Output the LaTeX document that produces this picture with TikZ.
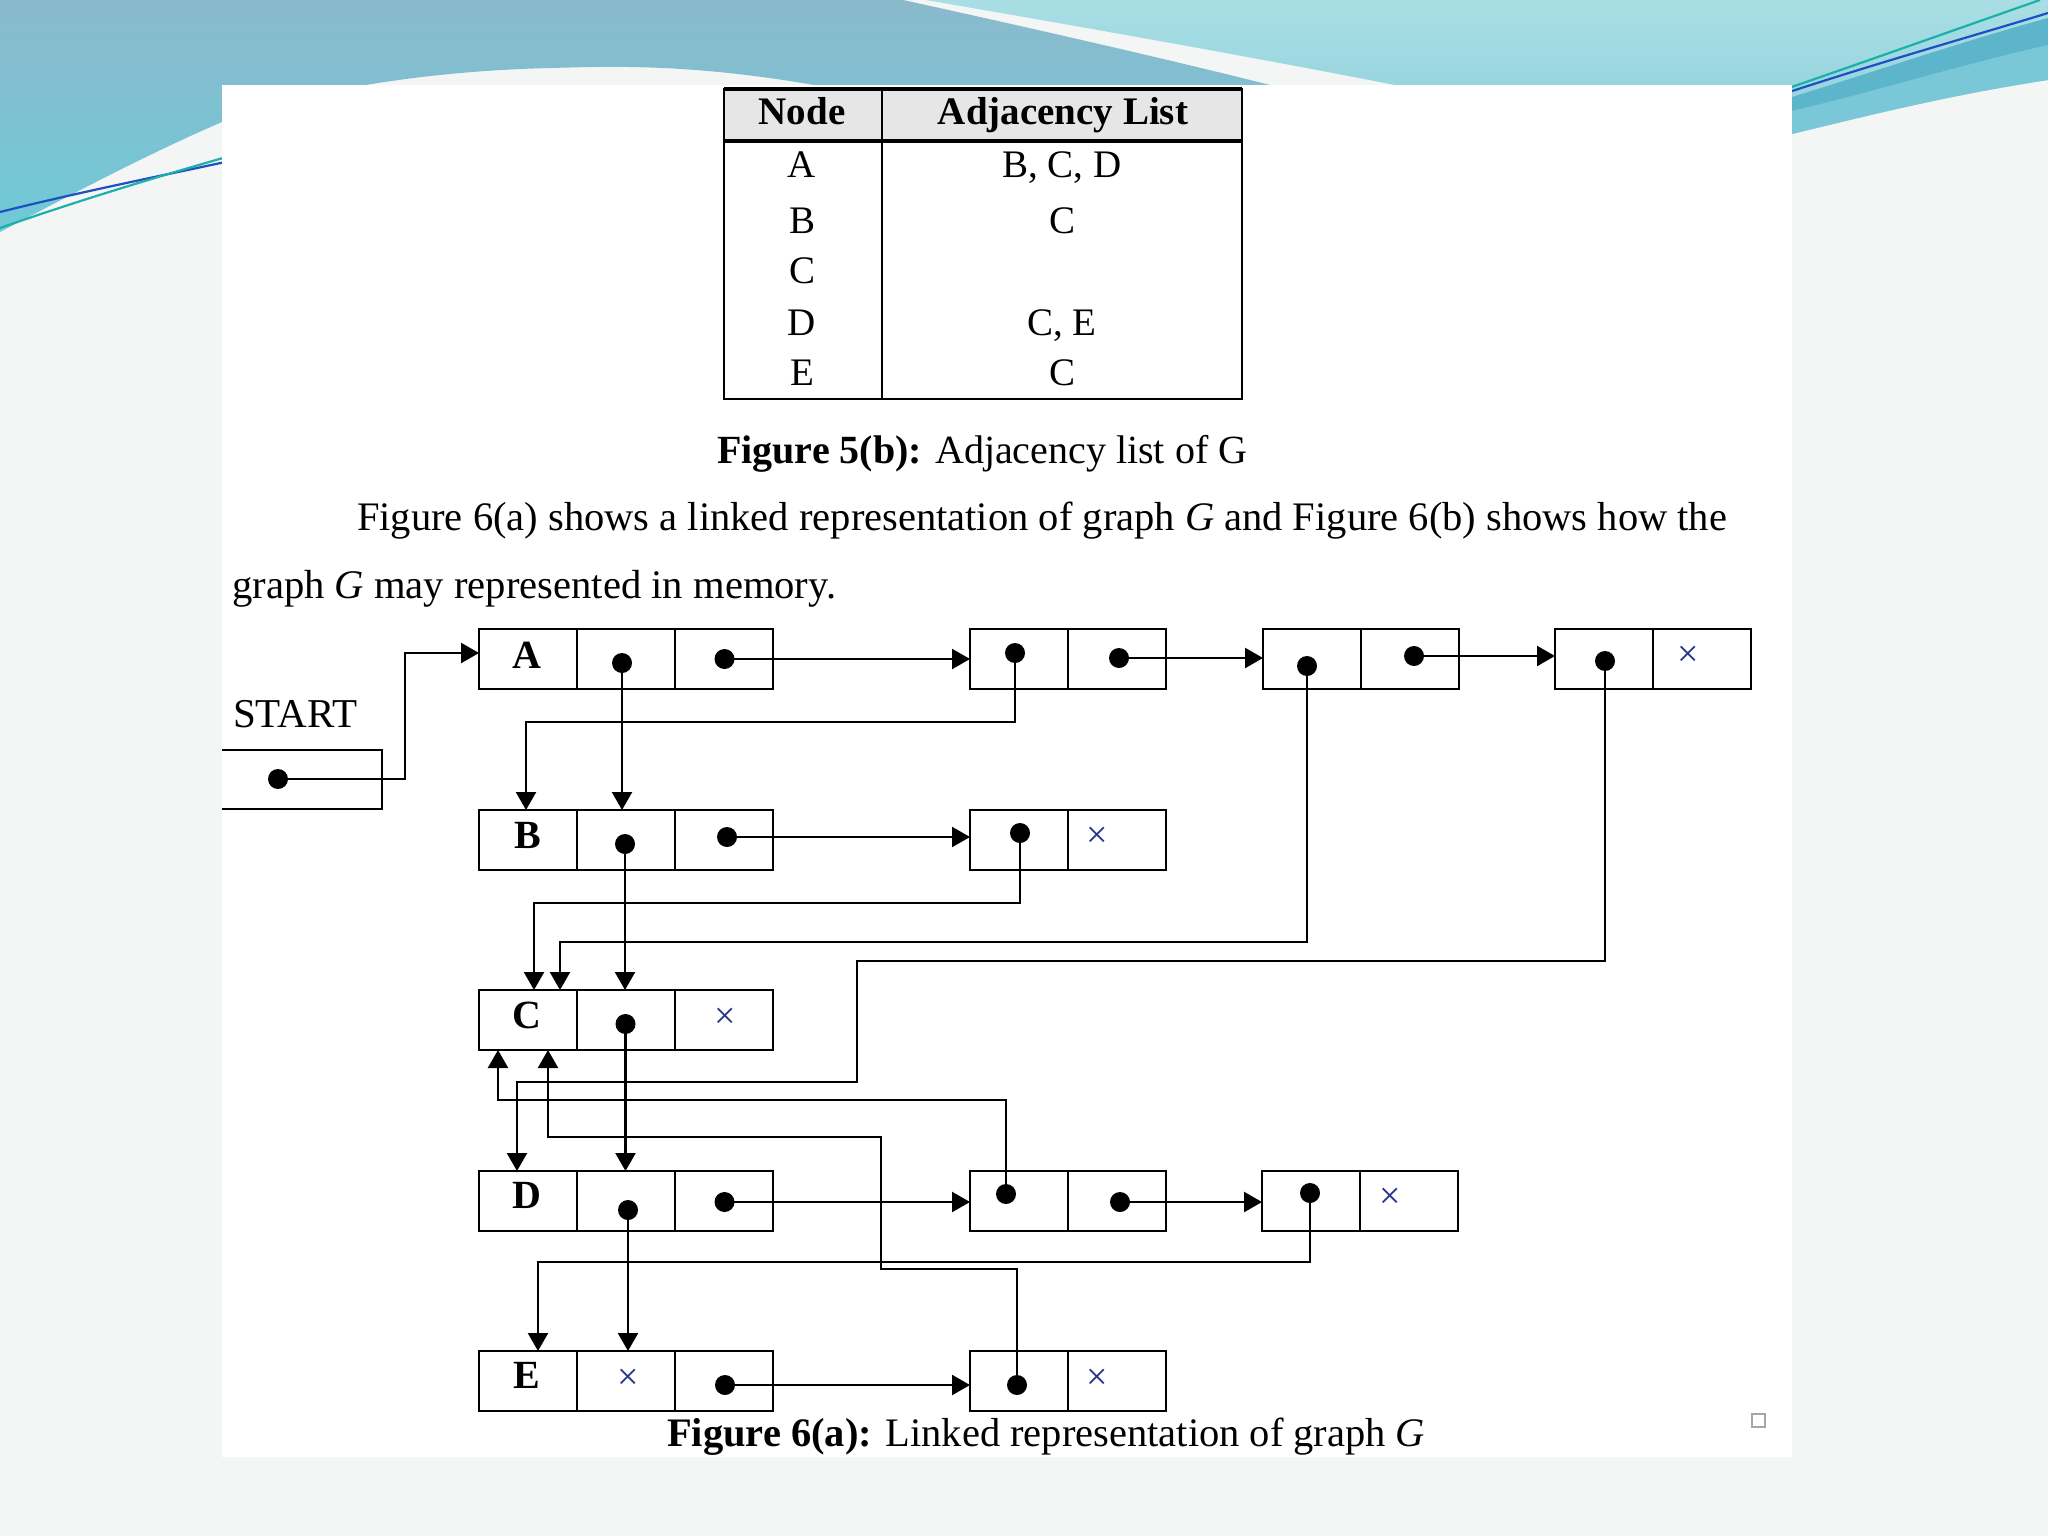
\documentclass[tikz,border=0pt]{standalone}
\usepackage{fontspec}
\setmainfont{Liberation Serif}
\usepackage{graphicx}
\usetikzlibrary{arrows.meta,calc}
\definecolor{pagebg}{HTML}{F4F5F5}
\definecolor{tealA}{HTML}{8AB9CC}
\definecolor{tealB}{HTML}{70CAD7}
\definecolor{tealC}{HTML}{A9DEE4}
\definecolor{tealD}{HTML}{90D1DD}
\definecolor{tealDark}{HTML}{5DB5CC}
\definecolor{tealMid}{HTML}{79C7D7}
\definecolor{lineTeal}{HTML}{19B1AA}
\definecolor{lineBlue}{HTML}{1E50C2}
\definecolor{xnavy}{HTML}{26358A}
\definecolor{hdrgray}{HTML}{E6E6E6}
\tikzset{
  cell/.style={draw, line width=2.4pt, minimum width=98pt, minimum height=60pt, inner sep=0pt, outer sep=0pt},
  ptr/.style={circle, fill=black, inner sep=0pt, minimum size=20pt},
  link/.style={line width=2.4pt},
  arr/.style={line width=2.4pt, -{Triangle[width=20pt,length=18pt]}},
  lbl/.style={font=\fontsize{40}{48}\selectfont\bfseries, inner sep=0pt, anchor=base},
  nil/.style={font=\fontsize{38}{44}\selectfont, text=xnavy, inner sep=0pt},
  tab/.style={font=\fontsize{39}{46}\selectfont, inner sep=0pt, anchor=base},
  tabh/.style={font=\fontsize{39}{46}\selectfont\bfseries, inner sep=0pt, anchor=base},
  txt/.style={inner sep=0pt, anchor=base west},
}
\begin{document}
\begin{tikzpicture}[x=1pt,y=-1pt]
\path[use as bounding box] (0,0) rectangle (2048,1536);
% ---------- background ----------
\fill[pagebg] (0,0) rectangle (2048,1536);
\shade[top color=tealA, bottom color=tealB] (0,0) -- (903,0)
  .. controls (1040,30) and (1180,62) .. (1290,90) -- (1290,100) -- (840,100) -- (831,88)
  .. controls (700,64) and (620,66) .. (551,68)
  .. controls (420,71) and (300,92) .. (222,122)
  .. controls (150,153) and (80,190) .. (0,232) -- cycle;
\shade[top color=tealC, bottom color=tealD] (926,0) -- (2048,0) -- (2048,80)
  .. controls (1950,95) and (1870,115) .. (1792,134) -- (1792,100) -- (1420,100) -- (1420,90)
  .. controls (1280,62) and (1100,30) .. (926,0) -- cycle;
\fill[tealMid] (1792,111) .. controls (1880,90) and (1960,65) .. (2048,45) -- (2048,80)
  .. controls (1950,95) and (1870,115) .. (1792,134) -- cycle;
\fill[tealDark] (1792,97) .. controls (1880,70) and (1960,42) .. (2048,18) -- (2048,45)
  .. controls (1960,65) and (1880,90) .. (1792,111) -- cycle;
\draw[lineTeal, line width=2.2pt] (1780,91) .. controls (1870,60) and (1960,28) .. (2040,0);
\draw[lineBlue, line width=2.2pt] (1780,95) .. controls (1880,62) and (1980,34) .. (2048,13);
\draw[lineBlue, line width=2.2pt] (0,212) .. controls (80,192) and (160,176) .. (230,161);
\draw[lineTeal, line width=2.2pt] (0,228) .. controls (80,200) and (160,176) .. (230,156);
% page
\fill[white] (222,85) rectangle (1792,1457);
\draw[gray!70, line width=2pt] (1752,1414) rectangle (1765,1427);
% ---------- table ----------
\fill[hdrgray] (724,89) rectangle (1242,141);
\draw[line width=2.4pt] (724,89) rectangle (1242,399);
\draw[line width=3.4pt] (724,89) -- (1242,89);
\draw[line width=3.4pt] (724,141) -- (1242,141);
\draw[line width=2.4pt] (882,89) -- (882,399);
\node[tabh] (hNode) at (802,125) {Node};
\node[tabh] (hAdj) at (1063,125) {Adjacency List};
\node[tab] (tA) at (802,177) {A};
\node[tab] (tB) at (802,233) {B};
\node[tab] (tC) at (802,283) {C};
\node[tab] (tD) at (802,335) {D};
\node[tab] (tE) at (802,385) {E};
\node[tab] (tlA) at (1062,177) {B, C, D};
\node[tab] (tlB) at (1062,233) {C};
\node[tab] (tlD) at (1062,335) {C, E};
\node[tab] (tlE) at (1062,385) {C};
\node[txt] (cap5) at (717,463) {\resizebox{530pt}{!}{\fontsize{40}{48}\selectfont\textbf{Figure 5(b):} Adjacency list of G}};
\node[txt] (para1) at (357,530) {\resizebox{1370pt}{!}{\fontsize{39}{46}\selectfont Figure 6(a) shows a linked representation of graph \textit{G} and Figure 6(b) shows how the}};
\node[txt] (para2) at (232,598) {\resizebox{604pt}{!}{\fontsize{39}{46}\selectfont graph \textit{G} may represented in memory.}};
% ---------- records ----------
\foreach \r/\y in {A/659,B/840,C/1020,D/1201,E/1381}{
  \node[cell] (\r0) at (528,\y) {};
  \node[cell] (\r1) at (626,\y) {};
  \node[cell] (\r2) at (724,\y) {};
}
\node[cell] (LA1a) at (1019,659) {}; \node[cell] (LA1b) at (1117,659) {};
\node[cell] (LA2a) at (1312,659) {}; \node[cell] (LA2b) at (1410,659) {};
\node[cell] (LA3a) at (1604,659) {}; \node[cell] (LA3b) at (1702,659) {};
\node[cell] (LBa) at (1019,840) {}; \node[cell] (LBb) at (1117,840) {};
\node[cell] (LD1a) at (1019,1201) {}; \node[cell] (LD1b) at (1117,1201) {};
\node[cell] (LD2a) at (1311,1201) {}; \node[cell] (LD2b) at (1409,1201) {};
\node[cell] (LEa) at (1019,1381) {}; \node[cell] (LEb) at (1117,1381) {};
% labels
\node[lbl] (lA) at (527,668) {A};
\node[lbl] (lB) at (528,848) {B};
\node[lbl] (lC) at (527,1028) {C};
\node[lbl] (lD) at (527,1208) {D};
\node[lbl] (lE) at (527,1388) {E};
% nil marks
\node[nil] (xA3) at (1688,656) {×};
\node[nil] (xB) at (1097,837) {×};
\node[nil] (xC) at (725,1018) {×};
\node[nil] (xD2) at (1390,1198) {×};
\node[nil] (xE) at (628,1379) {×};
\node[nil] (xLE) at (1097,1379) {×};
% START
\node[txt, font=\fontsize{41}{48}\selectfont] (start) at (233,727) {START};
\draw[link] (222,750) -- (382,750) -- (382,809) -- (222,809);
% pointer dots (coordinates)
\coordinate (pS) at (278,779);
\coordinate (pA1) at (622,663); \coordinate (pA2) at (724.5,659);
\coordinate (pLA1a) at (1015,653); \coordinate (pLA1b) at (1119,658);
\coordinate (pLA2a) at (1307,666); \coordinate (pLA2b) at (1414,656);
\coordinate (pLA3a) at (1605,661);
\coordinate (pB1) at (625,844); \coordinate (pB2) at (727,837);
\coordinate (pLBa) at (1020,833);
\coordinate (pC1) at (625.5,1024);
\coordinate (pD1) at (628,1210); \coordinate (pD2) at (724.5,1202);
\coordinate (pLD1a) at (1006,1194); \coordinate (pLD1b) at (1120,1202);
\coordinate (pLD2a) at (1310,1193);
\coordinate (pE2) at (725,1385);
\coordinate (pLEa) at (1017,1385);
% entry points
\coordinate (inA) at ($(A0.west)+(0,-6)$);
\coordinate (inB) at (526,810);
\coordinate (inCa) at (534,990);
\coordinate (inCb) at (560,990);
\coordinate (inD) at (517,1171);
\coordinate (inE) at (538,1351);
\coordinate (upC1) at (498,1050);
\coordinate (upC2) at (548,1050);
% ---------- connectors ----------
\draw[arr] (pS) -- ++(127,0) |- (inA);
\draw[arr] (pA1) -- (pA1 |- B1.north);
\draw[arr] (pB1) -- (pB1 |- C1.north);
\draw[arr] (pC1) -- (pC1 |- D1.north);
\draw[arr] (pD1) -- (pD1 |- E1.north);
\draw[arr] (pA2) -- (pA2 -| LA1a.west);
\draw[arr] (pLA1b) -- (pLA1b -| LA2a.west);
\draw[arr] (pLA2b) -- (pLA2b -| LA3a.west);
\draw[arr] (pB2) -- (pB2 -| LBa.west);
\draw[arr] (pD2) -- (pD2 -| LD1a.west);
\draw[arr] (pLD1b) -- (pLD1b -| LD2a.west);
\draw[arr] (pE2) -- (pE2 -| LEa.west);
\draw[arr] (pLA1a) -- ++(0,69) -| (inB);
\draw[arr] (pLA2a) -- ++(0,276) -| (inCb);
\draw[arr] (pLA3a) -- ++(0,300) -- ++(-748,0) -- ++(0,121) -| (inD);
\draw[arr] (pLBa) -- ++(0,70) -| (inCa);
\draw[arr] (pLD1a) -- ++(0,-94) -| (upC1);
\draw[arr] (pLEa) -- ++(0,-116) -- ++(-136,0) -- ++(0,-132) -| (upC2);
\draw[arr] (pLD2a) -- ++(0,69) -| (inE);
% dots
\foreach \p in {pS,pA1,pA2,pLA1a,pLA1b,pLA2a,pLA2b,pLA3a,pB1,pB2,pLBa,pC1,pD1,pD2,pLD1a,pLD1b,pLD2a,pE2,pLEa}{
  \node[ptr] (d\p) at (\p) {};
}
% caption
\node[txt] (cap6) at (667,1446) {\resizebox{758pt}{!}{\fontsize{40}{48}\selectfont\textbf{Figure 6(a):} Linked representation of graph \textit{G}}};
\end{tikzpicture}
\end{document}
